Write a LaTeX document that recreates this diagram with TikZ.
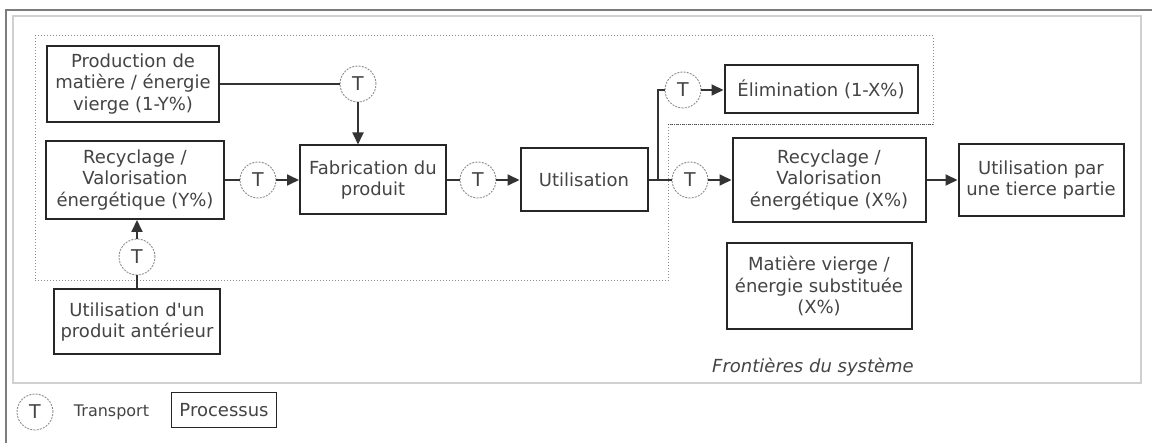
\documentclass[tikz,border=0pt]{standalone}
\usepackage{fontspec}
\setmainfont{DejaVu Sans}
\usetikzlibrary{positioning,calc,arrows.meta}
\definecolor{txtgray}{HTML}{444444}
\definecolor{framegray}{HTML}{7c7c7c}
\definecolor{lightframe}{HTML}{d0d0d0}
\definecolor{dotgray}{HTML}{8c8c8c}
\tikzset{
  procbox/.style={draw=black!85, line width=2pt, fill=white, align=center,
    text=txtgray, font=\fontsize{18}{21.5}\selectfont, inner sep=0pt},
  transp/.style={circle, draw=dotgray, dash pattern=on 2pt off 1.2pt, line width=0.9pt,
    minimum size=36pt, inner sep=0pt, text=txtgray, font=\fontsize{19}{20}\selectfont},
  flow/.style={draw=black!80, line width=1.8pt},
  flowarr/.style={flow, -{Triangle[length=12pt,width=11pt]}},
}

\begin{document}
\begin{tikzpicture}[x=1pt, y=-1pt]
  \useasboundingbox (0,0) rectangle (1152,443);

  % frames
  \draw[framegray, line width=2pt] (5,10) -- (1152,10);
  \draw[framegray, line width=2pt] (6,10) -- (6,443);
  \draw[lightframe, line width=1.6pt] (13,16) rectangle (1141,383);

  % system boundary
  \draw[dotgray, dotted, line width=1pt]
    (35,36) -- (933,36) -- (933,125) -- (668,125) -- (668,281) -- (35,281) -- cycle;
  \draw[black!70, densely dotted, line width=1pt] (668,125) -- (933,125);
  \node[text=txtgray, font=\fontsize{18}{20}\selectfont\itshape] (front) at (813,367) {Frontières du système};

  % processes
  \node[procbox, minimum width=172pt, minimum height=76pt] (prod) at (133,84)
    {Production de\\matière / énergie\\vierge (1-Y\%)};
  \node[procbox, minimum width=178pt, minimum height=78pt] (recY) at (135,180)
    {Recyclage /\\Valorisation\\énergétique (Y\%)};
  \node[procbox, minimum width=146pt, minimum height=69pt] (fab) at (373,180)
    {Fabrication du\\produit};
  \node[procbox, minimum width=127pt, minimum height=63pt] (util) at (584,180)
    {Utilisation};
  \node[procbox, minimum width=193pt, minimum height=48pt] (elim) at (821,89)
    {Élimination (1-X\%)};
  \node[procbox, minimum width=193pt, minimum height=84pt] (recX) at (829,180)
    {Recyclage /\\Valorisation\\énergétique (X\%)};
  \node[procbox, minimum width=165pt, minimum height=72pt] (tierce) at (1041,180)
    {Utilisation par\\une tierce partie};
  \node[procbox, minimum width=185pt, minimum height=86pt] (subst) at (819,286)
    {Matière vierge /\\énergie substituée\\(X\%)};
  \node[procbox, minimum width=166pt, minimum height=65pt] (ante) at (137,322)
    {Utilisation d\textquotesingle un\\produit antérieur};

  % transports
  \node[transp] (tprod) at (358,84) {T};
  \node[transp] (trecY) at (258,180) {T};
  \node[transp] (tfab) at (478,180) {T};
  \node[transp] (telim) at (683,90) {T};
  \node[transp] (trecX) at (690,180) {T};
  \node[transp] (tante) at (137,257) {T};
  \coordinate (split) at (658,180);

  % flows
  \draw[flow] (prod.east |- tprod) -- (tprod.west);
  \draw[flowarr] (tprod.south) -- (tprod.south |- fab.north);
  \draw[flow] (recY.east) -- (trecY.west);
  \draw[flowarr] (trecY.east) -- (fab.west);
  \draw[flow] (fab.east) -- (tfab.west);
  \draw[flowarr] (tfab.east) -- (util.west);
  \draw[flow] (util.east) -- (split) |- (telim.west);
  \draw[flowarr] (telim.east) -- (elim.west |- telim);
  \draw[flow] (split) -- (trecX.west);
  \draw[flowarr] (trecX.east) -- (recX.west);
  \draw[flowarr] (recX.east) -- (tierce.west);
  \draw[flow] (ante.north) -- (tante.south);
  \draw[flowarr] (tante.north) -- (recY.south -| tante);

  % legend
  \node[transp] (legT) at (35,412) {T};
  \node[text=txtgray, font=\fontsize{16}{18}\selectfont, right=17pt of legT] (legTtxt) {Transport};
  \node[procbox, line width=1.6pt, minimum width=105pt, minimum height=35pt] (legP) at (224,410) {Processus};
\end{tikzpicture}
\end{document}
